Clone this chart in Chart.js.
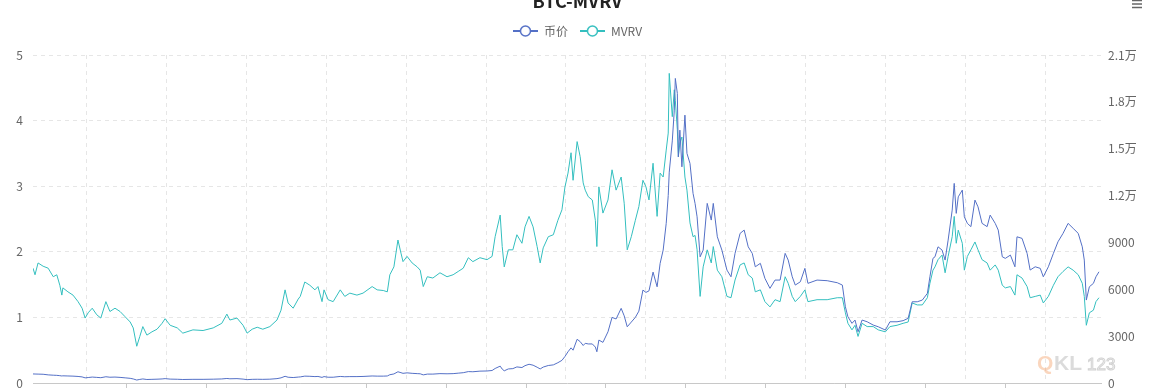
<!DOCTYPE html>
<html>
<head>
<meta charset="utf-8">
<script src="https://cdn.jsdelivr.net/npm/chart.js@4.4.1/dist/chart.umd.min.js"></script>
<style>
  html, body { margin: 0; padding: 0; background: #fff; }
  #wrap { width: 1155px; height: 389px; }
</style>
</head>
<body>
<div id="wrap"><canvas id="chart" width="1155" height="389"></canvas></div>
<script>
// days since 2014-06-02
const days = [
  0, 4, 10, 20, 30, 40, 47, 53, 57, 59,
  69, 79, 89, 97, 103, 109, 117, 126, 134, 144,
  152, 162, 172, 182, 192, 198, 205, 211, 217, 225,
  235, 245, 255, 261, 271, 285, 296, 316, 336, 356,
  373, 383, 389, 403, 415, 423, 433, 443, 454, 468,
  482, 490, 498, 504, 514, 524, 528, 537, 547, 557,
  563, 571, 575, 583, 593, 607, 616, 626, 640, 652,
  670, 680, 692, 700, 705, 713, 721, 727, 731, 739,
  749, 759, 765, 771, 779, 790, 804, 818, 830, 840,
  850, 860, 869, 883, 897, 907, 913, 923, 927, 931,
  939, 948, 956, 966, 972, 980, 988, 996, 1002, 1008,
  1018, 1028, 1037, 1045, 1051, 1057, 1063, 1067, 1075, 1081,
  1087, 1091, 1097, 1105, 1111, 1114, 1118, 1126, 1136, 1144,
  1152, 1162, 1168, 1174, 1182, 1190, 1197, 1205, 1211, 1217,
  1225, 1233, 1239, 1245, 1251, 1255, 1257, 1263, 1267, 1269,
  1273, 1275, 1278, 1282, 1288, 1292, 1298, 1304, 1308, 1312,
  1318, 1324, 1332, 1340, 1344, 1352, 1361, 1371, 1379, 1387,
  1397, 1405, 1413, 1421, 1427, 1437, 1446, 1456, 1466, 1476,
  1486, 1492, 1500, 1506, 1516, 1525, 1531, 1549, 1569, 1589,
  1599, 1605, 1610, 1618, 1624, 1630, 1638, 1648, 1660, 1670,
  1684, 1693, 1707, 1719, 1729, 1737, 1747, 1757, 1767, 1772,
  1778, 1782, 1788, 1796, 1802, 1808, 1816, 1820, 1824, 1828,
  1836, 1840, 1846, 1853, 1861, 1867, 1875, 1885, 1891, 1901,
  1907, 1915, 1921, 1931, 1940, 1944, 1954, 1964, 1970, 1980,
  1990, 1996, 2006, 2016, 2025, 2035, 2045, 2055, 2065, 2073,
  2077, 2081, 2087, 2095, 2100, 2106
];

const mvrv = [
  1.75, 1.65, 1.83, 1.78, 1.75, 1.62, 1.65, 1.49, 1.34, 1.45,
  1.39, 1.34, 1.24, 1.14, 0.99, 1.07, 1.14, 1.04, 0.99, 1.24,
  1.09, 1.14, 1.09, 1.01, 0.93, 0.84, 0.56, 0.71, 0.86, 0.73,
  0.78, 0.82, 0.91, 0.98, 0.88, 0.84, 0.76, 0.81, 0.80, 0.84,
  0.91, 1.05, 0.96, 0.99, 0.88, 0.76, 0.82, 0.85, 0.82, 0.86,
  0.96, 1.11, 1.42, 1.22, 1.14, 1.28, 1.32, 1.54, 1.49, 1.42,
  1.47, 1.24, 1.42, 1.27, 1.24, 1.42, 1.32, 1.37, 1.34, 1.37,
  1.47, 1.42, 1.41, 1.39, 1.65, 1.77, 2.18, 1.98, 1.85, 1.93,
  1.83, 1.77, 1.72, 1.47, 1.62, 1.60, 1.68, 1.62, 1.65, 1.70,
  1.75, 1.91, 1.85, 1.91, 1.88, 1.93, 2.23, 2.56, 2.08, 1.77,
  2.03, 2.03, 2.26, 2.13, 2.38, 2.54, 2.38, 2.08, 1.83, 2.06,
  2.23, 2.26, 2.48, 2.64, 2.99, 3.20, 3.51, 3.09, 3.68, 3.45,
  3.05, 2.94, 2.84, 2.79, 2.48, 2.08, 2.99, 2.59, 2.79, 3.25,
  2.94, 3.14, 2.74, 2.03, 2.23, 2.48, 2.69, 3.09, 2.99, 2.79,
  3.35, 2.54, 3.20, 3.14, 3.55, 3.81, 4.72, 4.06, 4.47, 4.31,
  3.86, 3.45, 3.66, 3.75, 3.14, 2.94, 2.44, 2.23, 2.25, 2.03,
  1.32, 1.77, 2.03, 1.83, 2.08, 1.72, 1.62, 1.32, 1.30, 1.57,
  1.80, 1.83, 1.65, 1.60, 1.39, 1.42, 1.24, 1.16, 1.27, 1.24,
  1.62, 1.52, 1.32, 1.24, 1.32, 1.42, 1.24, 1.27, 1.27, 1.30,
  1.30, 1.07, 0.91, 0.81, 0.88, 0.71, 0.91, 0.86, 0.86, 0.81,
  0.78, 0.86, 0.88, 0.91, 0.93, 1.22, 1.19, 1.19, 1.30, 1.52,
  1.72, 1.77, 1.88, 1.95, 1.68, 1.93, 2.23, 2.54, 2.13, 2.33,
  2.13, 1.72, 1.93, 2.03, 2.15, 2.03, 1.88, 1.83, 1.72, 1.80,
  1.72, 1.49, 1.45, 1.47, 1.34, 1.65, 1.60, 1.47, 1.30, 1.32,
  1.34, 1.22, 1.32, 1.49, 1.62, 1.70, 1.77, 1.72, 1.65, 1.52,
  1.32, 0.88, 1.07, 1.11, 1.24, 1.30
];

const price = [
  580, 575, 570, 560, 520, 500, 490, 470, 450, 460,
  450, 440, 420, 390, 330, 350, 380, 360, 340, 400,
  370, 380, 360, 330, 300, 260, 190, 230, 260, 225,
  235, 245, 260, 280, 250, 240, 225, 235, 235, 245,
  260, 290, 270, 280, 250, 215, 235, 240, 235, 245,
  280, 330, 430, 370, 350, 380, 390, 440, 430, 410,
  420, 360, 410, 370, 370, 420, 400, 410, 410, 420,
  450, 440, 440, 450, 530, 580, 720, 660, 620, 650,
  620, 600, 590, 520, 570, 570, 600, 590, 600, 630,
  660, 730, 720, 760, 770, 800, 930, 1080, 890, 780,
  900, 920, 1030, 990, 1110, 1200, 1140, 1010, 900, 1020,
  1120, 1160, 1300, 1450, 1700, 2000, 2250, 2100, 2800, 2650,
  2400, 2540, 2500, 2500, 2300, 2000, 2750, 2600, 3280, 4200,
  4100, 4780, 4300, 3600, 3900, 4200, 4600, 5950, 5800, 5900,
  7100, 6160, 7660, 8510, 10220, 12000, 13500, 15500, 17470, 19500,
  18540, 14480, 16190, 13840, 17150, 14700, 14060, 12140, 11500, 10640,
  8080, 8510, 11500, 10430, 11500, 9360, 8510, 7230, 6800, 8300,
  9580, 9790, 8720, 8300, 7440, 7660, 6700, 6060, 6590, 6590,
  8300, 7870, 6800, 6270, 6480, 7340, 6380, 6590, 6550, 6420,
  6270, 4880, 4240, 3820, 4030, 3280, 4030, 3920, 3710, 3600,
  3390, 3920, 3920, 3990, 4140, 5200, 5200, 5310, 5740, 6800,
  7980, 8080, 8720, 8510, 7870, 9150, 11070, 12780, 10860, 11920,
  12350, 10640, 10220, 10010, 11710, 11280, 10220, 10010, 10750, 10220,
  9790, 8080, 7980, 8190, 7440, 9360, 9260, 8300, 7230, 7440,
  7340, 6800, 7440, 8300, 9040, 9580, 10220, 9900, 9580, 8720,
  7870, 5310, 6160, 6380, 6800, 7120
];

// vertical split lines and the tick marks between them (days)
const splitDays = [105, 263, 421, 579, 737, 895, 1053, 1211, 1369, 1527, 1685, 1843, 2001];
const tickDays = [184, 342, 500, 658, 816, 974, 1132, 1290, 1448, 1606, 1764, 1922];

const BLUE = '#5470c6';
const TEAL = '#34bfbf';
const FONT = '"Microsoft YaHei", "Noto Sans CJK SC", sans-serif';

Chart.defaults.font.family = FONT;
Chart.defaults.color = '#666';

let legendIcon = (color) => {
    const c = document.createElement('canvas');
    c.width = 25;
    c.height = 14;
    const g = c.getContext('2d');
    g.strokeStyle = color;
    g.lineWidth = 2;
    g.beginPath();
    g.moveTo(0, 7);
    g.lineTo(25, 7);
    g.stroke();
    g.beginPath();
    g.arc(12.5, 7, 5, 0, Math.PI * 2);
    g.fillStyle = '#fff';
    g.fill();
    g.lineWidth = 1.5;
    g.stroke();
    return c;
};

// y axes: keep the plot area flush, label overflow is fine here
let fixWidth = (w) => (scale) => {
    scale.width = w;
    scale.paddingTop = 0;
    scale.paddingBottom = 0;
};

const extras = {
    id: 'extras',
    beforeDatasetsDraw(chart) {
        const ctx = chart.ctx;
        ctx.save();
        ctx.textBaseline = 'alphabetic';
        ctx.font = 'bold 21px Arial, "Liberation Sans", sans-serif';
        ctx.fillStyle = 'rgba(245, 165, 110, 0.45)';
        ctx.fillText('Q', 1037, 370);
        ctx.fillStyle = 'rgba(190, 190, 190, 0.55)';
        ctx.fillText('KL', 1054, 370);
        ctx.font = '17px Arial, "Liberation Sans", sans-serif';
        ctx.strokeStyle = 'rgba(190, 190, 190, 0.7)';
        ctx.lineWidth = 1;
        ctx.strokeText('123', 1087, 370);
        ctx.restore();
    },
    afterDraw(chart) {
        const ctx = chart.ctx;
        ctx.save();
        ctx.strokeStyle = '#666';
        ctx.lineWidth = 1.5;
        for (let y of [0.5, 4, 7.5]) {
            ctx.beginPath();
            ctx.moveTo(1132, y);
            ctx.lineTo(1142, y);
            ctx.stroke();
        }
        ctx.restore();
    }
};

const isSplit = (v) => splitDays.includes(v);

new Chart(document.getElementById('chart'), {
    type: 'line',
    data: {
        datasets: [{
            label: '币价',
            data: days.map((d, i) => ({ x: d, y: price[i] })),
            yAxisID: 'y1',
            borderColor: BLUE,
            backgroundColor: BLUE,
            borderWidth: 1,
            pointRadius: 0,
            pointStyle: legendIcon(BLUE),
            tension: 0
        }, {
            label: 'MVRV',
            data: days.map((d, i) => ({ x: d, y: mvrv[i] })),
            yAxisID: 'y',
            borderColor: TEAL,
            backgroundColor: TEAL,
            borderWidth: 1,
            pointRadius: 0,
            pointStyle: legendIcon(TEAL),
            tension: 0
        }]
    },
    options: {
        responsive: false,
        animation: false,
        events: [],
        layout: { padding: 0 },
        plugins: {
            title: {
                display: true,
                text: 'BTC-MVRV',
                color: '#222',
                font: { size: 18, weight: 'bold', family: FONT },
                padding: { top: -10, bottom: 1.4 }
            },
            subtitle: {
                display: true,
                text: '',
                weight: 500,
                font: { size: 1 },
                padding: { top: 0, bottom: 6.8 }
            },
            legend: {
                labels: {
                    usePointStyle: true,
                    pointStyleWidth: 25,
                    color: '#666',
                    padding: 12,
                    font: { size: 12, family: FONT }
                }
            },
            tooltip: { enabled: false }
        },
        scales: {
            x: {
                type: 'linear',
                min: 0,
                max: 2110,
                afterBuildTicks: (scale) => {
                    scale.ticks = splitDays.concat(tickDays).sort((a, b) => a - b).map(v => ({ value: v }));
                },
                afterFit: (scale) => { scale.height = 6; },
                ticks: { display: false },
                grid: {
                    color: (c) => isSplit(c.tick.value) ? '#e6e6e6' : 'rgba(0,0,0,0)',
                    tickColor: (c) => isSplit(c.tick.value) ? 'rgba(0,0,0,0)' : '#c8c8c8',
                    tickLength: 5,
                    lineWidth: 1
                },
                border: { display: true, color: '#c8c8c8', dash: [4, 4] }
            },
            y: {
                position: 'left',
                min: 0,
                max: 5,
                ticks: { stepSize: 1, padding: 10, color: '#666', font: { size: 12 } },
                afterFit: fixWidth(33),
                grid: { color: '#e6e6e6', drawTicks: false },
                border: { display: false, dash: [4, 4] }
            },
            y1: {
                position: 'right',
                min: 0,
                max: 21000,
                ticks: {
                    stepSize: 3000,
                    padding: 7,
                    color: '#666',
                    font: { size: 12 },
                    callback: (v) => v >= 10000 ? (v / 10000) + '万' : String(v)
                },
                afterFit: fixWidth(54),
                grid: { drawOnChartArea: false, drawTicks: false },
                border: { display: false }
            }
        }
    },
    plugins: [extras]
});
</script>
</body>
</html>
